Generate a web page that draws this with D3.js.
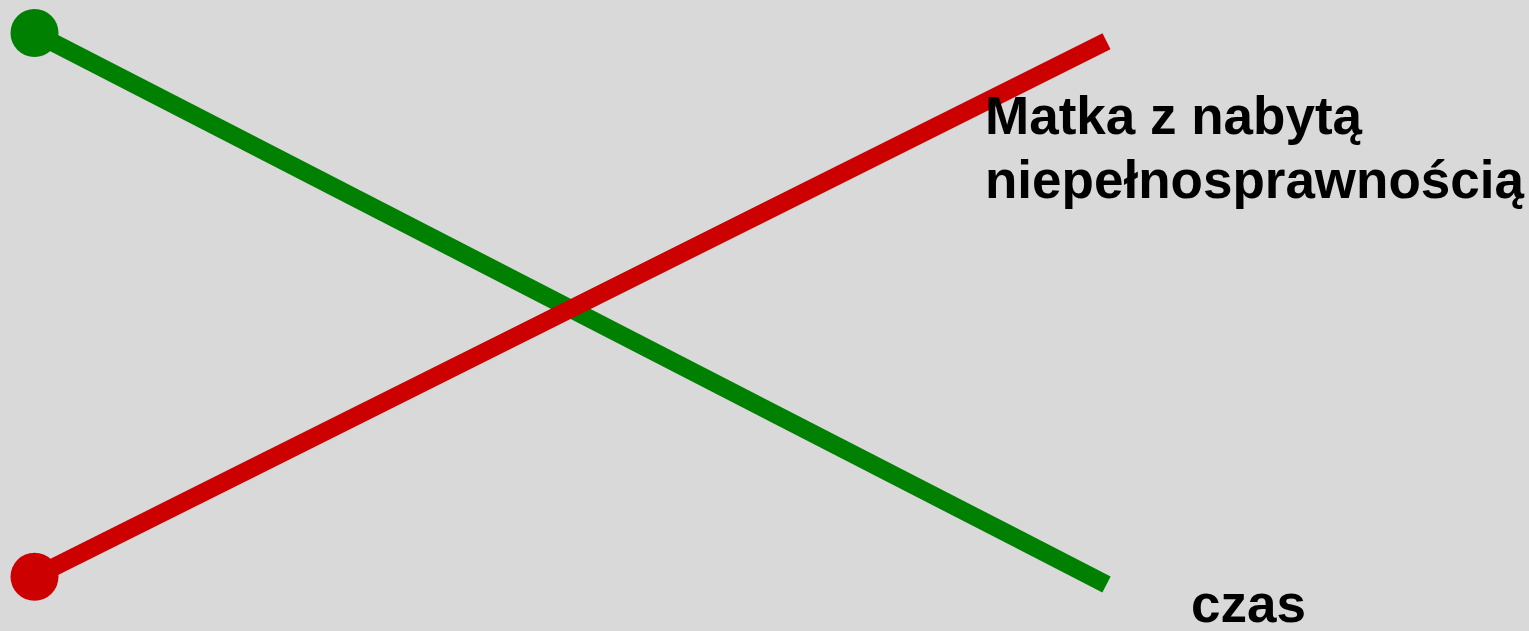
<!DOCTYPE html>
<html>
<head>
<meta charset="utf-8">
<script src="https://cdn.jsdelivr.net/npm/d3@7"></script>
<style>
  html, body { margin: 0; padding: 0; background: #d9d9d9; overflow: hidden; }
  svg { display: block; }
  text { font-family: "Liberation Sans", Arial, sans-serif; font-weight: bold; fill: #000; }
</style>
</head>
<body>
<svg></svg>
<script>
// time points (start, end)
const timePoints = [0, 1];
// series values along the time axis
const greenValues = [100, 0];
const redValues = [1.4, 98.5];
const seriesNames = ["green", "red"];
const seriesColors = ["#008000", "#cc0000"];
const labelLines = ["Matka z nabytą", "niepełnosprawnością"];
const axisLabel = "czas";

const width = 1529;
const height = 631;

const svg = d3.select("svg").attr("width", width).attr("height", height);

svg.append("rect")
  .attr("width", width)
  .attr("height", height)
  .attr("fill", "#d9d9d9");

const x = d3.scaleLinear().domain([0, 1]).range([34.5, 1106.5]);
const y = d3.scaleLinear().domain([0, 100]).range([584.5, 33]);

const series = [greenValues, redValues].map((vals, i) => ({
  name: seriesNames[i],
  color: seriesColors[i],
  points: timePoints.map((t, j) => ({ t, v: vals[j] })),
}));

const line = d3.line()
  .x((d) => x(d.t))
  .y((d) => y(d.v));

const g = svg.selectAll("g.series")
  .data(series)
  .join("g")
  .attr("class", "series");

g.append("path")
  .attr("d", (d) => line(d.points))
  .attr("fill", "none")
  .attr("stroke", (d) => d.color)
  .attr("stroke-width", 18)
  .attr("stroke-linecap", "butt");

// dot at the starting point
g.append("circle")
  .attr("cx", (d) => x(d.points[0].t))
  .attr("cy", (d) => y(d.points[0].v))
  .attr("r", 24)
  .attr("fill", (d) => d.color);

// label
const label = svg.append("text")
  .attr("x", 985)
  .attr("y", 134)
  .style("font-size", "53px");

label.selectAll("tspan")
  .data(labelLines)
  .join("tspan")
  .attr("x", 985)
  .attr("dy", (d, i) => (i === 0 ? 0 : 64))
  .text((d) => d);

svg.append("text")
  .attr("x", 1191)
  .attr("y", 622)
  .style("font-size", "53px")
  .text(axisLabel);
</script>
</body>
</html>
